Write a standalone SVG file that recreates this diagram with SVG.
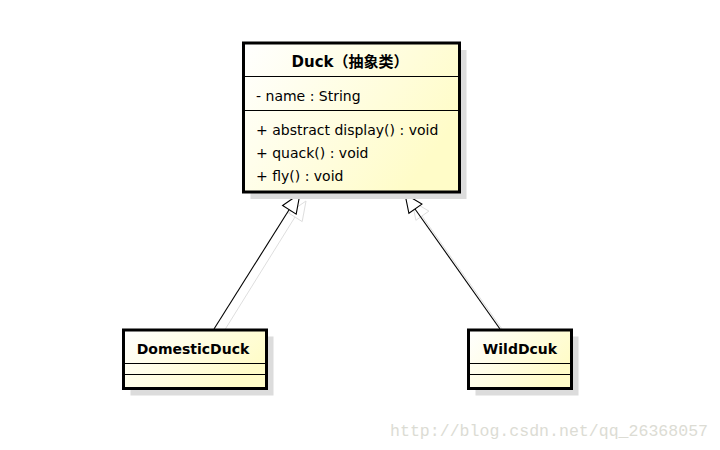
<svg xmlns="http://www.w3.org/2000/svg" width="720" height="450" viewBox="0 0 720 450">
<defs>
<linearGradient id="fill" x1="0" y1="0" x2="1" y2="0.5">
<stop offset="0" stop-color="#ffffff"/>
<stop offset="1" stop-color="#fffcc8"/>
</linearGradient>
<style>
.shadow{fill:#dcdcdc;stroke:none}
.box{fill:url(#fill);stroke:#000;stroke-width:3}
.sep{stroke:#000;stroke-width:1}
.t{font-family:"DejaVu Sans","Noto Sans CJK SC",sans-serif;font-size:14px;fill:#000}
.b{font-weight:bold;text-anchor:middle}
.title{font-size:15px}
.edge{stroke:#000;stroke-width:1.1;fill:none}
.head{stroke:#000;stroke-width:1.1;fill:#fff}
.eshadow{stroke:#dedede;stroke-width:1;fill:none}
.hshadow{stroke:#dedede;stroke-width:1;fill:#fff}
.wm{font-family:"Liberation Mono",monospace;font-size:17px;fill:#dcdcd4}
</style>
</defs>
<rect width="720" height="450" fill="#fff"/>
<g id="connectors">
<line class="eshadow" x1="221" y1="336" x2="295" y2="217"/>
<polygon class="hshadow" points="306,201 288.6,213 302.2,221.6"/>
<line class="eshadow" x1="507" y1="336" x2="422" y2="216"/>
<polygon class="hshadow" points="412,201 428.9,211.1 415.9,220.3"/>
<line class="edge" x1="214" y1="329" x2="289.4" y2="209.3"/>
<polygon class="head" points="300,193.5 282.6,205.5 296.2,214.1"/>
<line class="edge" x1="500" y1="329" x2="415" y2="209"/>
<polygon class="head" points="405,194 421.9,204.1 408.9,213.3"/>
</g>
<g id="Duck">
<rect class="shadow" x="250.5" y="50" width="216" height="149"/>
<rect class="box" x="243.5" y="43" width="216" height="149"/>
<line class="sep" x1="245" y1="76.5" x2="458" y2="76.5"/>
<line class="sep" x1="245" y1="110.5" x2="458" y2="110.5"/>
<text class="t b title" x="350" y="66.5">Duck（抽象类）</text>
<text class="t" x="256" y="101">- name : String</text>
<text class="t" x="256" y="134.5">+ abstract display() : void</text>
<text class="t" x="256" y="157.5">+ quack() : void</text>
<text class="t" x="256" y="180.5">+ fly() : void</text>
</g>
<g id="DomesticDuck">
<rect class="shadow" x="130.5" y="336.5" width="143" height="59"/>
<rect class="box" x="123.5" y="330" width="143" height="58.5"/>
<line class="sep" x1="125" y1="363.5" x2="265" y2="363.5"/>
<line class="sep" x1="125" y1="374.5" x2="265" y2="374.5"/>
<text class="t b" x="193" y="354">DomesticDuck</text>
</g>
<g id="WildDcuk">
<rect class="shadow" x="475.5" y="336.5" width="103" height="59"/>
<rect class="box" x="468.5" y="330" width="103" height="58.5"/>
<line class="sep" x1="470" y1="363.5" x2="570" y2="363.5"/>
<line class="sep" x1="470" y1="374.5" x2="570" y2="374.5"/>
<text class="t b" x="520" y="354">WildDcuk</text>
</g>
<text class="wm" x="390" y="436" textLength="318" lengthAdjust="spacingAndGlyphs">http://blog.csdn.net/qq_26368057</text>
</svg>
